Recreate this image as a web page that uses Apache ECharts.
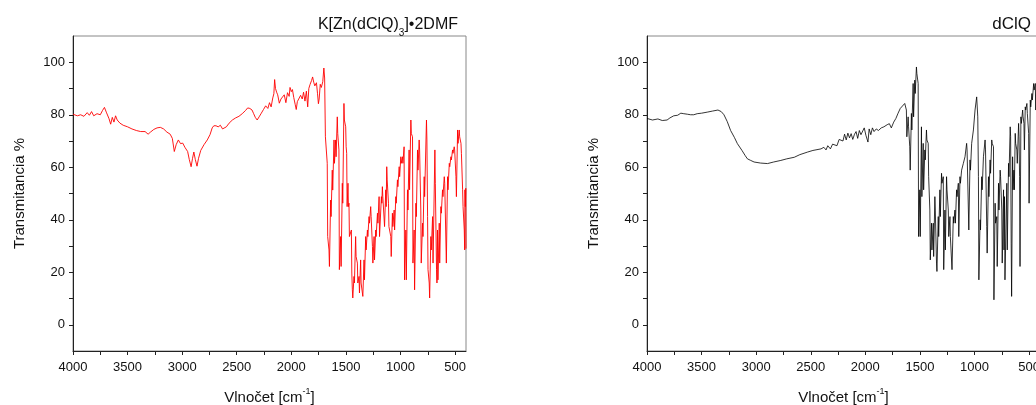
<!DOCTYPE html>
<html>
<head>
    <meta charset="UTF-8">
    <title>IR spectra</title>
    <style>
        html, body { margin: 0; padding: 0; background: #fff; }
    </style>
</head>
<body>
    <div id="main" style="width:1036px;height:405px"></div>

    <script src="https://cdn.jsdelivr.net/npm/echarts@6/dist/echarts.min.js"></script>
    <script>
        /* tick positions (wavenumber, cm-1) */
        var xLabelValues = [4000, 3500, 3000, 2500, 2000, 1500, 1000, 500];
        var xTickValues = [4000, 3750, 3500, 3250, 3000, 2750, 2500, 2250, 2000, 1750, 1500, 1250, 1000, 750, 500];
        var yLabelValues = [0, 20, 40, 60, 80, 100];
        var yTickValues = [0, 10, 20, 30, 40, 50, 60, 70, 80, 90, 100];

        /* K[Zn(dClQ)3]•2DMF spectrum, [wavenumber, T %] */
        var complexSpectrum = [
            [4000,80.2],[3960,79.6],[3930,80.0],[3900,79.4],[3870,80.8],[3850,79.8],[3830,81.2],[3810,79.6],
            [3780,80.4],[3750,80.0],[3730,81.6],[3712,82.8],[3695,81.0],[3670,78.5],[3655,76.4],[3640,79.0],
            [3625,77.2],[3610,79.6],[3595,78.0],[3570,76.8],[3540,76.0],[3500,75.4],[3460,74.6],[3420,74.0],
            [3380,73.6],[3340,73.6],[3312,72.6],[3290,73.4],[3260,74.4],[3230,75.0],[3200,75.2],[3170,74.6],
            [3140,73.4],[3110,72.6],[3090,71.0],[3072,66.0],[3055,68.6],[3035,70.4],[3015,69.0],[2995,69.2],
            [2975,67.6],[2950,66.0],[2935,63.0],[2918,60.2],[2905,63.4],[2893,65.8],[2880,63.0],[2864,60.4],
            [2850,63.4],[2830,66.4],[2800,68.6],[2770,70.4],[2745,72.4],[2725,75.0],[2710,75.8],[2690,75.8],
            [2670,75.4],[2650,76.0],[2630,74.6],[2612,74.0],[2595,75.4],[2570,76.8],[2540,78.0],[2510,78.8],
            [2480,79.4],[2450,80.4],[2420,81.6],[2400,82.6],[2380,82.4],[2360,81.8],[2345,80.4],[2330,79.0],
            [2313,78.0],[2295,79.2],[2275,80.6],[2255,82.0],[2235,83.4],[2215,82.4],[2200,84.6],[2185,83.0],
            [2170,86.4],[2160,88.0],[2153,93.4],[2145,90.0],[2135,88.6],[2125,87.6],[2110,84.4],[2095,86.0],
            [2080,85.6],[2065,87.6],[2050,84.6],[2035,88.4],[2020,87.0],[2012,90.4],[2000,88.8],[1990,89.6],
            [1978,86.6],[1965,84.0],[1955,82.0],[1945,85.0],[1930,84.6],[1915,87.4],[1900,86.0],[1888,88.6],
            [1875,85.2],[1862,89.0],[1850,83.0],[1840,90.0],[1828,91.6],[1815,93.0],[1805,94.4],[1795,92.4],
            [1785,91.0],[1770,92.2],[1760,88.0],[1752,84.2],[1745,86.0],[1735,91.6],[1725,90.4],[1712,92.6],
            [1702,97.8],[1695,94.0],[1688,71.6],
            [1671,61.5],[1667,33.6],[1655,28.5],[1651,22.2],[1640,47.5],[1636,41.2],[1625,58.9],[1621,51.3],
            [1609,70.4],[1605,61.5],[1594,70.4],[1590,64.0],[1579,79.2],[1575,72.9],[1564,66.6],[1560,21.0],
            [1548,33.6],[1544,22.2],[1533,53.9],[1529,46.3],[1518,84.3],[1514,78.0],[1502,75.4],[1498,67.8],
            [1493,65.3],[1489,45.0],[1481,53.9],[1477,45.0],[1472,46.3],[1468,33.6],[1450,36.1],[1446,19.7],
            [1441,13.3],[1437,10.2],[1426,18.4],[1422,15.9],[1411,33.6],[1407,26.0],[1395,23.5],[1391,15.9],
            [1380,18.4],[1376,12.1],[1365,24.7],[1361,15.9],[1349,15.9],[1345,10.8],[1334,24.7],[1330,17.1],
            [1319,33.6],[1315,28.5],[1303,36.1],[1299,33.6],[1288,41.2],[1284,38.7],[1273,45.0],[1269,41.2],
            [1257,29.8],[1253,23.5],[1242,33.6],[1238,24.7],[1227,36.1],[1223,33.6],[1211,42.5],[1207,38.7],
            [1196,48.8],[1192,33.6],[1175,48.8],[1171,46.3],[1166,52.6],[1162,48.8],[1150,48.8],[1146,37.4],
            [1135,51.4],[1131,45.0],[1126,60.2],[1122,55.2],[1110,46.3],[1106,37.4],[1089,33.6],[1085,26.0],
            [1074,42.5],[1070,37.4],[1058,43.7],[1054,36.1],[1043,48.8],[1039,46.3],[1028,55.2],[1024,52.6],
            [1012,60.2],[1008,56.4],[997,64.0],[993,61.5],[982,64.0],[978,61.5],[967,67.8],[963,17.1],
            [951,36.1],[947,17.1],[936,51.4],[932,43.7],[921,66.6],[917,51.4],[905,78.0],[901,72.9],
            [890,71.6],[886,23.5],[875,36.1],[871,13.3],[859,46.3],[855,41.2],[844,66.6],[840,58.9],
            [829,70.4],[825,66.6],[814,43.7],[810,23.5],[798,38.7],[794,33.6],[783,56.4],[779,48.8],
            [762,78.0],[758,70.4],[752,41.2],[748,21.0],[737,15.9],[733,10.2],[722,33.6],[718,28.5],
            [706,41.2],[702,23.5],[685,66.6],[681,53.9],[670,21.0],[666,15.9],[661,36.1],[657,17.1],
            [645,38.7],[641,23.5],[630,45.0],[626,42.5],[615,51.4],[611,48.8],[599,56.4],[595,53.9],
            [584,53.9],[580,23.5],[569,56.4],[565,51.4],[553,61.5],[549,60.2],[538,64.0],[534,62.8],
            [523,66.6],[519,65.3],[508,67.8],[504,66.6],[492,56.4],[488,48.8],[477,74.2],[473,69.1],
            [462,74.2],[458,71.6],[446,69.1],[442,65.3],[431,51.4],[427,45.0],[416,36.1],[412,28.5],
            [410,51.4],[406,45.0],[402,52.0],[400,29.0]
        ];

        /* dClQ spectrum, [wavenumber, T %] */
        var ligandSpectrum = [
            [4000,78.6],[3950,78.0],[3900,78.4],[3860,77.8],[3816,78.0],[3790,78.8],[3755,79.6],[3720,79.8],
            [3690,80.6],[3663,80.4],[3630,80.2],[3600,80.0],[3572,80.0],[3540,80.4],[3500,80.6],[3448,81.0],
            [3400,81.4],[3350,81.8],[3320,81.2],[3295,80.0],[3265,77.4],[3234,74.0],[3200,71.4],[3172,69.0],
            [3130,66.4],[3100,64.4],[3080,63.2],[3050,62.6],[3019,62.0],[2960,61.6],[2896,61.4],[2840,62.0],
            [2774,62.6],[2720,63.2],[2651,63.8],[2600,64.8],[2528,65.8],[2480,66.4],[2406,67.0],[2380,67.6],
            [2360,66.6],[2344,68.2],[2320,67.0],[2300,68.8],[2283,69.0],[2260,68.2],[2240,70.6],[2222,71.0],
            [2205,70.0],[2190,72.6],[2175,70.4],[2160,73.0],[2145,71.2],[2130,72.8],[2115,70.6],[2099,72.6],
            [2085,73.6],[2070,71.0],[2055,74.0],[2040,72.4],[2025,73.0],[2010,75.0],[1995,72.2],[1976,69.6],
            [1965,74.6],[1950,72.4],[1935,75.0],[1920,73.6],[1900,74.6],[1880,74.0],[1854,75.0],[1830,75.4],
            [1800,76.2],[1780,76.6],[1762,75.0],[1740,77.2],[1720,78.6],[1700,80.6],[1680,82.4],[1639,84.3],
            [1624,81.8],[1620,71.6],[1608,79.2],[1604,75.4],[1593,67.8],[1589,58.9],[1578,80.5],[1574,74.2],
            [1562,91.9],[1558,79.2],[1547,93.2],[1543,88.1],[1532,98.2],[1528,95.7],[1516,91.9],[1512,33.6],
            [1501,51.4],[1497,33.6],[1486,75.4],[1482,48.8],[1470,69.1],[1466,51.4],[1455,66.6],[1451,62.8],
            [1440,74.2],[1436,70.4],[1424,69.1],[1420,56.4],[1409,43.7],[1405,24.7],[1394,38.7],[1390,28.5],
            [1378,38.7],[1374,26.0],[1363,48.8],[1359,43.7],[1348,23.5],[1344,20.3],[1332,41.2],[1328,33.6],
            [1317,51.4],[1313,41.2],[1302,57.7],[1298,53.9],[1286,56.4],[1282,21.0],[1271,43.7],[1267,28.5],
            [1256,56.4],[1252,51.4],[1240,43.7],[1236,33.6],[1225,41.2],[1221,33.6],[1210,33.6],[1206,21.0],
            [1194,41.2],[1190,38.7],[1179,43.7],[1175,38.7],[1164,51.4],[1160,48.8],[1148,53.9],[1144,33.6],
            [1133,56.4],[1129,53.9],[1118,58.9],[1102,61.5],[1087,64.0],[1072,69.1],[1068,66.6],[1056,66.6],
            [1052,36.1],[1041,62.8],[1037,58.9],[1026,69.1],[1010,74.2],[995,81.8],[980,86.8],[970,79.2],
            [964,56.4],[960,17.1],[949,40.0],[945,36.1],[934,56.4],[930,51.4],[918,64.0],[903,70.4],
            [899,66.6],[888,37.4],[884,27.3],[872,56.4],[868,48.8],[857,62.8],[853,57.7],[842,70.4],
            [838,69.1],[826,67.8],[822,9.5],[811,46.3],[807,38.7],[796,41.2],[792,22.2],[780,53.9],
            [776,43.7],[765,58.9],[761,56.4],[750,43.7],[746,23.5],[734,51.4],[730,28.5],[725,48.8],
            [721,17.1],[704,53.9],[700,28.5],[688,61.5],[684,56.4],[673,75.4],[669,71.6],[664,31.1],
            [660,10.8],[651,64.0],[647,51.4],[639,58.9],[635,51.4],[627,72.9],[623,69.1],[612,66.6],
            [608,61.5],[596,76.7],[592,71.6],[587,56.4],[583,22.2],[575,79.2],[571,76.7],[559,81.8],
            [555,79.2],[547,76.7],[543,66.6],[535,83.0],[531,81.8],[520,84.3],[516,80.5],[504,72.9],
            [500,46.3],[489,85.6],[485,83.0],[474,88.1],[470,85.6],[458,91.9],[454,89.4],[443,91.9],
            [439,81.8],[428,98.2],[424,93.2],[410,95.0],[400,96.0]
        ];

        var fontName = 'Liberation Sans, Arial, sans-serif';
        var textCol = '#111';

        function plainNumber(v) {
            return String(v);
        }

        function makeX(idx) {
            return {
                type: 'value',
                gridIndex: idx,
                inverse: true,
                min: 400,
                max: 4000,
                name: 'Vlnočet [cm{sup|-1}]',
                nameLocation: 'middle',
                nameGap: 36,
                nameTextStyle: {
                    fontFamily: fontName, fontSize: 15, color: textCol,
                    rich: { sup: { fontFamily: fontName, fontSize: 9, color: textCol, verticalAlign: 'top', lineHeight: 22 } }
                },
                splitLine: {show: false},
                axisLine: {onZero: false, lineStyle: {color: '#222', width: 1}},
                axisTick: {show: true, inside: false, length: 4, customValues: xTickValues, lineStyle: {color: '#222'}},
                axisLabel: {customValues: xLabelValues, formatter: plainNumber, margin: 10, fontFamily: fontName, fontSize: 13, color: textCol}
            };
        }
        function makeY(idx) {
            return {
                type: 'value',
                gridIndex: idx,
                min: -10,
                max: 110,
                name: 'Transmitancia %',
                nameLocation: 'middle',
                nameGap: 46,
                nameTextStyle: {fontFamily: fontName, fontSize: 15, color: textCol},
                splitLine: {show: false},
                axisLine: {show: true, onZero: false, lineStyle: {color: '#222', width: 1}},
                axisTick: {show: true, inside: false, length: 4, customValues: yTickValues, lineStyle: {color: '#222'}},
                axisLabel: {customValues: yLabelValues, formatter: plainNumber, margin: 8, fontFamily: fontName, fontSize: 13, color: textCol}
            };
        }

        var app = echarts.init(document.getElementById('main'));
        option = {
            animation: false,
            backgroundColor: '#fff',
            title: [
                {
                    text: '{a|K[Zn(dClQ)}{s|3}{a|]•2DMF}',
                    right: 573,
                    top: 7,
                    textStyle: {
                        fontWeight: 'normal',
                        rich: {
                            a: {fontFamily: fontName, fontSize: 16, fontWeight: 'normal', color: textCol, lineHeight: 18},
                            s: {fontFamily: fontName, fontSize: 10, fontWeight: 'normal', color: textCol, verticalAlign: 'bottom', lineHeight: 26}
                        }
                    }
                },
                {
                    text: 'dClQ',
                    right: 0,
                    top: 11,
                    textStyle: {fontFamily: fontName, fontSize: 17, fontWeight: 'normal', color: textCol}
                }
            ],
            grid: [
                {left: 73, top: 36, right: 570, bottom: 54, outerBoundsMode: 'none', containLabel: false,
                 show: true, borderColor: '#888', borderWidth: 1, backgroundColor: 'transparent'},
                {left: 647, top: 36, right: -4, bottom: 54, outerBoundsMode: 'none', containLabel: false,
                 show: true, borderColor: '#888', borderWidth: 1, backgroundColor: 'transparent'}
            ],
            xAxis: [makeX(0), makeX(1)],
            yAxis: [makeY(0), makeY(1)],
            series: [
                {
                    name: 'K[Zn(dClQ)3]•2DMF',
                    type: 'line',
                    xAxisIndex: 0,
                    yAxisIndex: 0,
                    showSymbol: false,
                    symbol: 'none',
                    lineStyle: {color: '#ff0000', width: 0.9},
                    data: complexSpectrum
                },
                {
                    name: 'dClQ',
                    type: 'line',
                    xAxisIndex: 1,
                    yAxisIndex: 1,
                    showSymbol: false,
                    symbol: 'none',
                    lineStyle: {color: '#000', width: 0.8},
                    data: ligandSpectrum
                }
            ]
        };
        app.setOption(option);
        window.addEventListener('resize', function(){
            app.resize();
        });
    </script>
</body>
</html>
